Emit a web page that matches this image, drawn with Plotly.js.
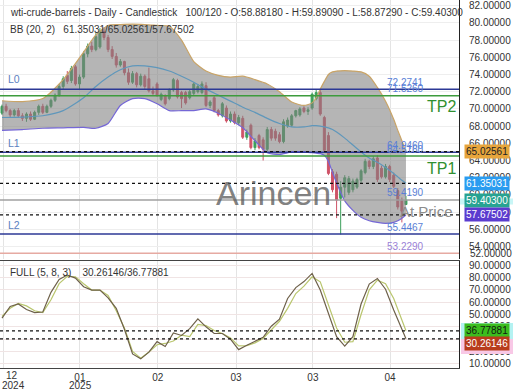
<!DOCTYPE html>
<html><head><meta charset="utf-8">
<script src="https://cdn.plot.ly/plotly-3.0.1.min.js"></script>
<style>html,body{margin:0;padding:0;background:#fff;}#chart{width:520px;height:390px;}</style>
</head><body><div id="chart"></div>
<script>
// ---------- DATA ----------
const open  = [69.5,70.3,69.8,69.3,69.8,69.2,68.9,69.4,68.8,69.6,70.3,69.6,70.3,71.0,71.6,72.6,73.9,73.3,74.9,72.9,
               73.7,76.4,77.3,76.9,77.2,79.0,78.3,76.9,76.1,75.1,75.5,74.2,73.1,74.1,72.8,73.8,73.5,72.1,72.9,71.1,
               71.5,71.2,72.2,73.3,71.9,71.9,71.3,71.8,72.0,71.9,72.7,70.4,71.3,69.8,69.2,70.1,68.6,69.4,68.4,68.9,
               66.7,68.1,65.5,66.9,66.4,65.3,67.6,67.4,67.0,66.2,68.0,68.1,69.2,69.3,70.1,69.7,70.1,71.2,71.9,69.0,
               66.9,62.7,62.4,59.6,60.9,60.3,60.6,60.9,61.7,62.6,63.9,63.3,64.3,63.1,62.1,63.3,62.3,60.5,59.4,58.8818];
const high  = [70.5,70.6,70.0,70.0,70.1,69.5,69.6,69.7,69.8,70.5,70.6,70.5,71.2,71.8,72.9,73.8,74.4,75.0,75.1,74.0,
               76.7,77.6,77.8,78.8,79.4,79.5,78.6,77.3,76.5,75.8,75.6,74.7,74.4,74.3,74.1,74.0,74.8,72.6,73.1,71.9,
               71.7,72.4,73.6,73.5,72.1,72.1,72.2,73.1,72.9,73.2,73.1,71.0,71.5,70.0,70.8,70.4,69.7,69.7,69.3,69.2,
               67.6,68.3,66.6,67.1,66.7,67.9,67.9,67.7,67.3,68.8,69.0,69.4,69.9,70.2,70.3,70.2,71.9,72.2,72.3,69.2,
               67.3,63.0,62.7,61.6,62.3,62.2,61.9,62.0,63.0,64.2,64.1,64.5,64.6,63.4,63.6,63.5,62.6,60.8,59.7,59.8909];
const low   = [69.3,69.6,69.0,69.1,69.0,68.6,68.5,68.6,68.7,69.3,69.4,69.5,70.1,70.8,71.4,72.3,72.9,73.0,72.7,72.2,
               73.5,76.0,76.6,76.7,77.0,78.0,76.6,75.8,74.8,74.9,73.9,72.8,72.9,72.5,72.6,72.3,71.9,71.5,71.4,70.9,
               70.4,71.0,72.0,71.2,70.1,70.5,71.1,71.6,71.8,71.7,70.2,70.1,69.6,69.1,69.0,68.4,68.4,68.2,68.1,66.5,
               66.4,65.3,65.2,65.3,64.0,65.1,66.3,66.3,66.0,66.0,67.8,67.9,69.0,69.1,69.5,69.3,69.9,71.0,69.2,65.0,
               62.3,60.3,57.3,55.4,59.7,60.0,60.3,60.7,61.4,62.4,63.0,63.0,61.5,61.9,61.9,61.5,60.8,58.3,56.8,58.8729];
const close = [70.3,69.8,69.3,69.8,69.2,68.9,69.4,68.8,69.6,70.3,69.6,70.3,71.0,71.6,72.6,73.5,73.2,74.7,72.9,73.7,
               76.4,77.3,76.9,78.4,79.0,78.3,76.9,76.1,75.1,75.5,74.2,73.1,74.1,72.8,73.8,72.6,72.1,71.8,71.6,71.7,
               70.6,72.2,73.4,71.4,71.2,70.7,72.0,72.9,72.6,72.9,70.4,70.8,69.8,69.3,70.6,68.6,69.4,68.4,69.0,66.7,
               67.3,65.5,66.3,65.5,65.3,67.6,66.6,66.6,66.2,68.5,68.7,69.2,69.8,70.0,69.7,69.9,71.7,71.9,69.4,65.2,
               62.5,60.6,59.4,60.9,62.0,61.9,61.6,61.8,62.8,63.9,63.3,64.2,61.8,62.1,63.3,61.8,61.0,58.6,58.1,59.403];
const barsShown = 100, barsTotal = 120;

// Bollinger Bands (20, 2) read at these bar numbers
const bbIdx   = [0,5,10,15,20,23,26,29,32,35,38,41,44,47,50,53,56,59,62,65,68,71,74,76,77,78,79,80,81,82,84,86,88,90,92,94,96,97,98,99];
const bbUpper = [70.95,70.85,71.2,73.4,76.6,78.6,79.7,79.8,79.85,79.8,79.7,79.6,78.0,75.5,74.4,73.9,73.7,73.8,73.4,72.9,
                 72.0,70.8,70.4,70.7,71.3,72.3,73.2,74.0,74.3,74.4,74.45,74.4,74.3,73.8,72.5,70.9,68.8,67.5,66.3,65.02561];
const bbMid   = [69.0,69.05,69.2,69.8,71.3,72.6,73.7,74.55,75.0,75.0,74.8,74.4,73.8,73.1,72.3,71.6,70.9,70.2,69.6,68.9,
                 68.3,67.9,67.9,68.05,68.05,68.0,67.9,67.8,67.6,67.3,66.6,65.8,65.0,64.3,63.8,63.2,62.5,62.1,61.7,61.35031];
const bbLower = [67.5,67.6,67.75,67.8,67.85,67.75,68.3,70.4,71.2,71.2,70.6,69.8,69.8,69.8,70.0,69.5,68.7,67.8,66.3,64.9,
                 64.7,65.0,65.0,64.9,64.85,64.8,64.6,63.9,62.6,61.4,59.3,58.2,57.4,57.0,56.8,56.7,56.8,57.0,57.3,57.67502];

// Stochastic FULL (5, 8, 3) read at these bar numbers
const stIdx = [0,2,4,6,8,10,12,14,16,18,20,22,24,26,28,30,32,34,36,38,40,42,44,46,48,50,52,54,56,58,
               60,62,64,66,68,70,72,74,76,78,80,82,84,86,88,90,92,94,96,98,99];
const stK = [47,56.5,58.5,54,51.5,52,68,78.5,82,79.5,72.5,69.8,69.8,63.5,55,38,18,14,19.5,28,
             24,35,33,38.5,46.5,40,34.6,34.6,30,21.5,25,28.5,31.5,40.5,46.2,63,71.8,76.7,83.3,69.8,
             50,32,24.4,32,58.5,74.7,79.2,70.5,53.6,38.7,30.26146];
const stD = [48.5,55,58.9,57,53,51.5,62,75,81,80.5,75,69.8,69.8,65.5,53,39,20,14.6,19.5,25.5,
             26.5,28.5,33.2,32,42,41,37,34.6,31,24.5,24.8,27,30.5,37.5,44.5,55,67,73,80.5,76.5,
             58,39,27.5,28,50,70,77.8,75,63,45,36.77881];

// Axis ticks
const tickBars   = [0.25,19.1,38.2,57.35,76.2,95.1];
const tickMonths = ['','01','02','03','03','04'];
const yearLabels = ['2024','2025'];
const priceTicks = [54,56,58,60,62,64,66,68,70,72,74,76,78,80,82];
const stochTicks = [10,20,30,40,50,60,70,80,90];

// Horizontal levels
const levelValues = [72.2741,71.5260,64.9460,64.5160,59.4190,55.4467,53.2290];
const levelNames  = ['L0','TP2','L1','TP1','At Price','L2',''];

// ---------- LAYOUT HELPERS ----------
const PW = 459, PH = 368;
const dMain = [0.2962,1], rMain = [52.55,82.66];
const dSt = [0,0.2908], rSt = [6.6,93.4];
const fx = px => px/PW;
const fy = py => (PH-py)/PH;
const pMain = v => dMain[0]+(v-rMain[0])/(rMain[1]-rMain[0])*(dMain[1]-dMain[0]);
const pSt = v => dSt[0]+(v-rSt[0])/(rSt[1]-rSt[0])*(dSt[1]-dSt[0]);
const FONT = 'Liberation Sans, Arial, sans-serif';
const bars = open.map((_,i)=>i);
const last = bars.length-1;
const f5 = v => v.toFixed(5);

const traces = [
  {type:'scatter',mode:'lines',x:bbIdx,y:bbUpper,line:{color:'#c9a467',width:1.2,shape:'spline',smoothing:0.6},hoverinfo:'skip',xaxis:'x',yaxis:'y'},
  {type:'scatter',mode:'lines',x:bbIdx,y:bbLower,fill:'tonexty',fillcolor:'rgba(128,128,128,0.58)',line:{color:'#7567d6',width:1.2,shape:'spline',smoothing:0.6},hoverinfo:'skip',xaxis:'x',yaxis:'y'},
  {type:'scatter',mode:'lines',x:bbIdx,y:bbMid,line:{color:'#5f97bb',width:1.2,shape:'spline',smoothing:0.6},hoverinfo:'skip',xaxis:'x',yaxis:'y'},
  {type:'candlestick',x:bars,open:open,high:high,low:low,close:close,xaxis:'x',yaxis:'y',whiskerwidth:0,
   increasing:{line:{color:'#3d9f5c',width:1},fillcolor:'#3d9f5c'},
   decreasing:{line:{color:'#cf5468',width:1},fillcolor:'#cf5468'},hoverinfo:'skip'},
  {type:'scatter',mode:'lines',x:stIdx,y:stD,line:{color:'#b9c66e',width:1.2},hoverinfo:'skip',xaxis:'x',yaxis:'y2'},
  {type:'scatter',mode:'lines',x:stIdx,y:stK,line:{color:'#6e614a',width:1.2},hoverinfo:'skip',xaxis:'x',yaxis:'y2'}
];

const navy='#2c3996', green='#3d9b3d';
const lvlStyle = [
  {c:navy,w:1.5,lab:'#5a7fd6'},{c:green,w:1.5,lab:'#5a7fd6'},{c:navy,w:1.5,lab:'#5a7fd6'},{c:green,w:1.5,lab:'#5a7fd6'},
  {c:'#a0a0a0',w:1.5,lab:'#5a7fd6'},{c:navy,w:1.5,lab:'#5a7fd6'},{c:'#e6aaa2',w:1.5,lab:'#9a7fd6'}
];
const shapes = [];
levelValues.forEach((v,i)=>{
  shapes.push({type:'line',xref:'paper',yref:'paper',x0:0,x1:1,y0:pMain(v),y1:pMain(v),line:{color:lvlStyle[i].c,width:lvlStyle[i].w}});
});
// dashed lines at last BB values
[bbUpper[bbUpper.length-1],bbMid[bbMid.length-1],bbLower[bbLower.length-1]].forEach(v=>{
  shapes.push({type:'line',xref:'paper',yref:'paper',x0:0,x1:1,y0:pMain(v),y1:pMain(v),line:{color:'#111',width:1.2,dash:'3px,3px'}});
});
[stK[stK.length-1],stD[stD.length-1]].forEach(v=>{
  shapes.push({type:'line',xref:'paper',yref:'paper',x0:0,x1:1,y0:pSt(v),y1:pSt(v),line:{color:'#111',width:1.2,dash:'3px,3px'}});
});
// badge halos
shapes.push({type:'rect',xref:'paper',yref:'paper',x0:fx(460),x1:fx(513),y0:pMain(close[last])-0.012,y1:pMain(close[last])+0.004,fillcolor:'#c8f6f6',line:{width:0}});
shapes.push({type:'rect',xref:'paper',yref:'paper',x0:fx(461),x1:fx(513),y0:fy(339),y1:fy(323),fillcolor:'#b4f2f2',line:{width:0}});
shapes.push({type:'rect',xref:'paper',yref:'paper',x0:fx(461),x1:fx(513),y0:fy(354),y1:fy(339),fillcolor:'#f8c8e6',line:{width:0}});

const ann = [];
const txt = (t,x,y,opts) => Object.assign({text:t,xref:'paper',yref:'paper',x:x,y:y,showarrow:false,xanchor:'left',yanchor:'middle',font:{family:FONT,size:10,color:'#333'}},opts||{});
const sp = n => '\u00a0'.repeat(n);
ann.push(txt('wti-crude-barrels - Daily - Candlestick'+sp(3)+barsShown+'/'+barsTotal+' - O:'+f5(open[last])+' - H:'+f5(high[last])+' - L:'+f5(low[last])+' - C:'+f5(close[last]),fx(8),fy(12.5)));
ann.push(txt('BB (20, 2)'+sp(3)+f5(bbMid[bbMid.length-1])+'/'+f5(bbUpper[bbUpper.length-1])+'/'+f5(bbLower[bbLower.length-1]),fx(8),fy(29.5)));
ann.push(txt('FULL (5, 8, 3)'+sp(4)+f5(stK[stK.length-1])+'/'+f5(stD[stD.length-1]),fx(8),fy(272)));
// level value labels
levelValues.forEach((v,i)=>{
  ann.push(txt(v.toFixed(4),fx(385),pMain(v),{yshift:7,font:{family:FONT,size:10,color:lvlStyle[i].lab}}));
});
// level names
const nameCfg = {
  'L0':{x:6,sh:10,size:10.5,color:'#5b7fc1'},'L1':{x:6,sh:9,size:10.5,color:'#5b7fc1'},'L2':{x:6,sh:9,size:10.5,color:'#5b7fc1'},
  'TP2':{x:425,sh:-11,size:16,color:'#2f8f2f'},'TP1':{x:425,sh:-12,size:16,color:'#2f8f2f'},
  'At Price':{x:398,sh:-12,size:15,color:'#8c8c8c'}
};
levelNames.forEach((n,i)=>{
  if(!n) return; const c = nameCfg[n];
  ann.push(txt(n,fx(c.x),pMain(levelValues[i]),{yshift:c.sh,font:{family:FONT,size:c.size,color:c.color}}));
});
// watermark
ann.push(txt('Arincen',fx(273),fy(193),{xanchor:'center',font:{family:FONT,size:34,color:'rgba(95,95,95,0.8)'}}));
// badges
const badge = (v,yv,bg,fg,ysh) => txt(f5(v),fx(464),yv,{bgcolor:bg,borderpad:1,yshift:ysh||0,font:{family:FONT,size:10,color:fg}});
ann.push(badge(bbUpper[bbUpper.length-1],pMain(bbUpper[bbUpper.length-1]),'#e7a53c','#222'));
ann.push(badge(bbMid[bbMid.length-1],pMain(bbMid[bbMid.length-1]),'#2a9cf0','#fff'));
ann.push(badge(close[last],pMain(close[last]),'#27a392','#fff'));
ann.push(badge(bbLower[bbLower.length-1],pMain(bbLower[bbLower.length-1]),'#5b3ccf','#fff'));
ann.push(badge(stD[stD.length-1],pSt(stD[stD.length-1]),'#3cbd1e','#102010'));
ann.push(badge(stK[stK.length-1],pSt(stK[stK.length-1]),'#b83c1c','#fff',-5));
// extra price label squeezed at the bottom
ann.push(txt('52.00000',fx(468),fy(253)));
// x labels
ann.push(txt('12',fx(12),fy(375.5),{xanchor:'center'}));
ann.push(txt(yearLabels[0],fx(13),fy(385),{xanchor:'center'}));
ann.push(txt(yearLabels[1],fx(80),fy(385),{xanchor:'center'}));

const layout = {
  width:520,height:390,margin:{l:0,r:61,t:0,b:22},paper_bgcolor:'#fff',plot_bgcolor:'#fff',showlegend:false,
  font:{family:FONT,size:10,color:'#333'},
  xaxis:{range:[-0.49,112.0],anchor:'y2',tickmode:'array',tickvals:tickBars,ticktext:tickMonths,showgrid:true,gridcolor:'#e4e4e4',
         zeroline:false,showline:true,mirror:true,linecolor:'#444',linewidth:1,ticks:'',rangeslider:{visible:false},fixedrange:true,
         tickfont:{family:FONT,size:10,color:'#333'}},
  yaxis:{domain:dMain,range:rMain,side:'right',tickmode:'array',tickvals:priceTicks,tickformat:'.5f',showgrid:true,gridcolor:'#eeeeee',
         zeroline:false,showline:true,linecolor:'#222',ticks:'',ticklabelstandoff:7,tickfont:{family:FONT,size:10,color:'#333'},fixedrange:true},
  yaxis2:{domain:dSt,range:rSt,side:'right',tickmode:'array',tickvals:stochTicks,tickformat:'.5f',showgrid:true,gridcolor:'#f0e4e4',
         zeroline:false,showline:true,linecolor:'#222',ticks:'',ticklabelstandoff:7,tickfont:{family:FONT,size:10,color:'#333'},fixedrange:true},
  shapes:shapes,annotations:ann
};
Plotly.newPlot('chart',traces,layout,{staticPlot:true,displayModeBar:false});
</script></body></html>
